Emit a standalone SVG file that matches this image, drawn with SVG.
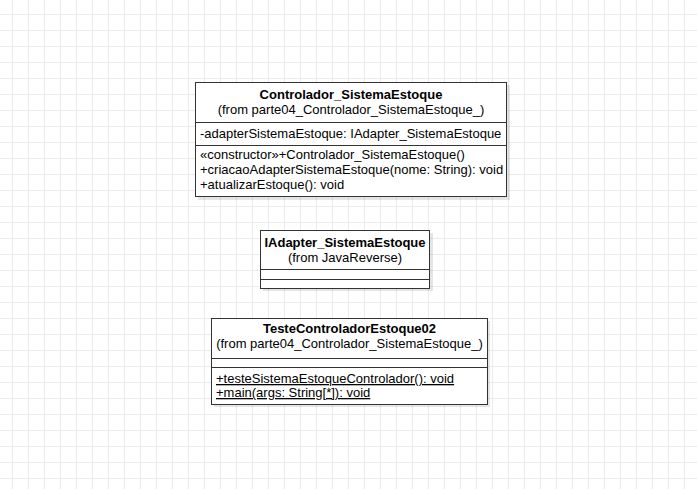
<svg xmlns="http://www.w3.org/2000/svg" width="697" height="489" viewBox="0 0 697 489">
<defs>
<pattern id="grid" x="12" y="14" width="16" height="16" patternUnits="userSpaceOnUse">
<path d="M0.5 0V16M0 0.5H16" stroke="#ebebeb" stroke-width="1" fill="none"/>
</pattern>
</defs>
<style>
.box{fill:#fff;stroke:#333;stroke-width:1}
.shadow{fill:#000;opacity:0.1}
.sep{stroke:#333;stroke-width:1}
text{font-family:"Liberation Sans",Arial,sans-serif;font-size:13px;fill:#000}
.t{font-weight:bold;text-anchor:middle}
.c{text-anchor:middle}
.u{text-decoration:underline}
</style>
<rect width="697" height="489" fill="#fff"/>
<rect width="697" height="489" fill="url(#grid)"/>
<g id="connectors"></g>
<g id="controlador">
<rect class="shadow" x="198" y="85" width="312" height="115"/>
<rect class="box" x="195.5" y="82.5" width="311" height="114"/>
<line class="sep" x1="195.5" y1="122.5" x2="506.5" y2="122.5"/>
<line class="sep" x1="195.5" y1="145.5" x2="506.5" y2="145.5"/>
<text class="t" x="351" y="99">Controlador_SistemaEstoque</text>
<text class="c" x="351" y="114">(from parte04_Controlador_SistemaEstoque_)</text>
<text x="200" y="138">-adapterSistemaEstoque: IAdapter_SistemaEstoque</text>
<text x="200" y="159">«constructor»+Controlador_SistemaEstoque()</text>
<text x="200" y="174">+criacaoAdapterSistemaEstoque(nome: String): void</text>
<text x="200" y="189">+atualizarEstoque(): void</text>
</g>
<g id="iadapter">
<rect class="shadow" x="263" y="233" width="170" height="58"/>
<rect class="box" x="260.5" y="230.5" width="169" height="58"/>
<line class="sep" x1="260.5" y1="269.5" x2="429.5" y2="269.5"/>
<line class="sep" x1="260.5" y1="279.5" x2="429.5" y2="279.5"/>
<text class="t" x="345" y="247">IAdapter_SistemaEstoque</text>
<text class="c" x="345" y="262">(from JavaReverse)</text>
</g>
<g id="teste">
<rect class="shadow" x="214" y="321" width="276" height="86"/>
<rect class="box" x="211.5" y="318.5" width="276" height="86"/>
<line class="sep" x1="211.5" y1="358.5" x2="487.5" y2="358.5"/>
<line class="sep" x1="211.5" y1="367.5" x2="487.5" y2="367.5"/>
<text class="t" x="349.5" y="333">TesteControladorEstoque02</text>
<text class="c" x="349.5" y="348">(from parte04_Controlador_SistemaEstoque_)</text>
<text class="u" x="216" y="383">+testeSistemaEstoqueControlador(): void</text>
<text class="u" x="216" y="397">+main(args: String[*]): void</text>
</g>
</svg>
